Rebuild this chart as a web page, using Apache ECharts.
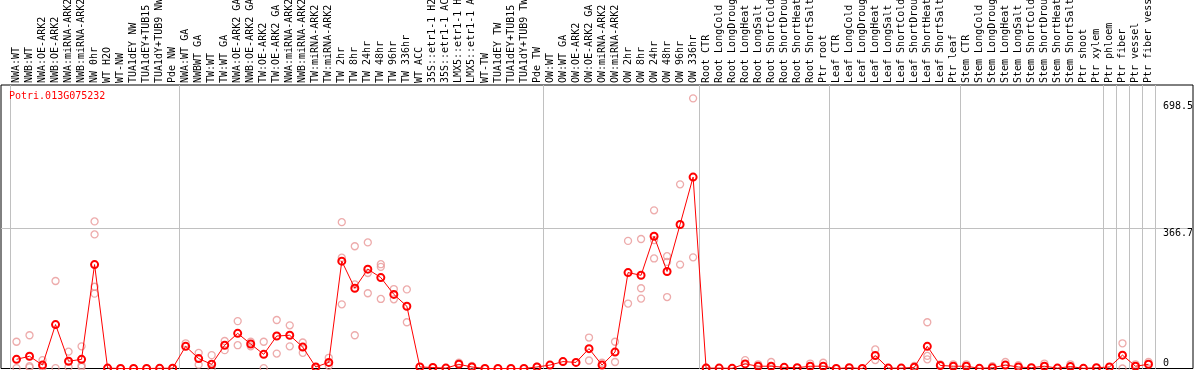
<!DOCTYPE html>
<html>
<head>
<meta charset="utf-8">
<script src="https://cdn.jsdelivr.net/npm/echarts@6/dist/echarts.min.js"></script>
<style>
html, body { margin: 0; padding: 0; background: #fff; }
#chart { width: 1194px; height: 370px; }
</style>
</head>
<body>
<div id="chart"></div>
<script>
var geneName = 'Potri.013G075232';

var samples = [
  'NWA:WT', 'NWB:WT', 'NWA:OE-ARK2', 'NWB:OE-ARK2', 'NWA:miRNA-ARK2', 'NWB:miRNA-ARK2', 'NW 0hr',
  'WT H2O', 'WT-NW', 'TUA1dEY NW', 'TUA1dEY+TUB15 NW', 'TUA1dY+TUB9 NW', 'Pde NW',
  'NWA:WT GA', 'NWBWT GA', 'TW:WT', 'TW:WT GA', 'NWA:OE-ARK2 GA', 'NWB:OE-ARK2 GA', 'TW:OE-ARK2',
  'TW:OE-ARK2 GA', 'NWA:miRNA-ARK2 GA', 'NWB:miRNA-ARK2 GA', 'TW:miRNA-ARK2', 'TW:miRNA-ARK2 GA',
  'TW 2hr', 'TW 8hr', 'TW 24hr', 'TW 48hr', 'TW 96hr', 'TW 336hr', 'WT ACC',
  '35S::etr1-1 H2O', '35S::etr1-1 ACC', 'LMX5::etr1-1 H2O', 'LMX5::etr1-1 ACC', 'WT-TW',
  'TUA1dEY TW', 'TUA1dEY+TUB15 TW', 'TUA1dY+TUB9 TW', 'Pde TW',
  'OW:WT', 'OW:WT GA', 'OW:OE-ARK2', 'OW:OE-ARK2 GA', 'OW:miRNA-ARK2', 'OW:miRNA-ARK2 GA',
  'OW 2hr', 'OW 8hr', 'OW 24hr', 'OW 48hr', 'OW 96hr', 'OW 336hr',
  'Root CTR', 'Root LongCold', 'Root LongDrought', 'Root LongHeat', 'Root LongSalt',
  'Root ShortCold', 'Root ShortDrought', 'Root ShortHeat', 'Root ShortSalt', 'Ptr root',
  'Leaf CTR', 'Leaf LongCold', 'Leaf LongDrought', 'Leaf LongHeat', 'Leaf LongSalt',
  'Leaf ShortCold', 'Leaf ShortDrought', 'Leaf ShortHeat', 'Leaf ShortSalt', 'Ptr leaf',
  'Stem CTR', 'Stem LongCold', 'Stem LongDrought', 'Stem LongHeat', 'Stem LongSalt',
  'Stem ShortCold', 'Stem ShortDrought', 'Stem ShortHeat', 'Stem ShortSalt', 'Ptr shoot',
  'Ptr xylem', 'Ptr phloem', 'Ptr fiber', 'Ptr vessel', 'Ptr fiber vessel'
];

// index of the first sample of each group (gray separators)
var groupStarts = [0, 13, 41, 53, 63, 73, 84, 85, 86, 87];

var meanValues = [
  24, 32, 9, 115, 19, 24, 272, 1, 0, 0, 0, 0.5, 0.7,
  58, 26, 11, 61, 92, 64, 37, 85, 87, 56, 4, 16, 281, 210, 260, 238, 194, 163, 4, 2.6, 1, 11, 4, 0, 0, 0, 0, 4,
  9, 18, 16, 52, 9, 43, 251, 244, 346, 254, 377, 501,
  1, 1, 0.5, 12, 6, 6, 3, 2, 6, 6,
  0, 2, 0, 34, 1, 1, 3, 58, 8, 6,
  6, 0.5, 2, 9, 4, 2, 6, 1, 5, 0.5, 2,
  4, 35, 6, 11
];

var replicates = [
  [70, 1], [87, 6, 3], [22, 3], [229, 1], [44, 4], [58, 4, 8], [385, 351, 214, 196],
  [0], [], [], [], [], [],
  [66], [41, 10], [35, 0], [72, 48], [124, 61], [70, 58], [70, 1], [127, 39], [113, 58], [68, 41],
  [1], [28, 7], [383, 290, 168], [320, 220, 87], [330, 250, 197], [273, 266, 182], [208, 181],
  [207, 121], [], [], [], [15], [7], [], [], [], [], [5],
  [], [], [], [81, 21], [15], [70, 17], [334, 170], [339, 210, 183], [414, 336, 288],
  [294, 279, 187], [482, 272], [707, 291],
  [2], [], [], [22], [11], [17], [], [], [13], [15],
  [], [], [], [50, 22], [], [], [7], [121, 33, 24], [11], [11],
  [11], [], [6], [17], [9], [], [13], [], [11], [], [],
  [], [66, 0], [11], [17]
];

var yLabelValues = [366.7, 698.5];
var yZeroLabel = [0];
var yMax = 742;

var repPoints = [];
replicates.forEach(function (list, i) {
  list.forEach(function (v) {
    repPoints.push([i, v]);
  });
});

var monoFont = 'DejaVu Sans Mono';

function isGroupStart(index) {
  return groupStarts.indexOf(index) >= 0;
}

var chart = echarts.init(document.getElementById('chart'));
chart.setOption({
  animation: false,
  backgroundColor: '#fff',
  title: {
    text: geneName,
    left: 9,
    top: 91,
    padding: 0,
    textStyle: { color: '#ff0000', fontSize: 10, fontFamily: monoFont, fontWeight: 'normal' }
  },
  grid: [
    // data area
    { left: 10, right: 39, top: 85, bottom: 1.5, containLabel: false, outerBoundsMode: 'none' },
    // outer frame
    { left: 1, right: 1, top: 85, bottom: 1.5, containLabel: false, outerBoundsMode: 'none',
      show: true, borderColor: '#000', borderWidth: 1, backgroundColor: 'transparent' }
  ],
  xAxis: [
    {
      type: 'category',
      gridIndex: 0,
      position: 'top',
      data: samples,
      boundaryGap: true,
      axisLine: { show: false },
      axisTick: {
        show: true,
        length: 85,
        interval: isGroupStart,
        lineStyle: { color: '#c0c0c0', width: 1 }
      },
      splitLine: {
        show: true,
        interval: isGroupStart,
        lineStyle: { color: '#c0c0c0', width: 1 }
      },
      axisLabel: {
        interval: 0,
        rotate: 90,
        margin: 2,
        color: '#000',
        fontSize: 10,
        fontFamily: monoFont
      }
    },
    { type: 'value', gridIndex: 1, show: false, min: 0, max: 1 }
  ],
  yAxis: [
    { type: 'value', gridIndex: 0, min: 0, max: yMax, show: false },
    {
      type: 'value',
      gridIndex: 1,
      position: 'right',
      min: 0,
      max: yMax,
      axisLine: { show: false },
      axisTick: { show: false, customValues: [366.7] },
      splitLine: { show: true, lineStyle: { color: '#c0c0c0', width: 1 } },
      axisLabel: {
        customValues: yLabelValues,
        inside: true,
        margin: 30,
        align: 'left',
        verticalAlign: 'top',
        color: '#000',
        fontSize: 10,
        fontFamily: monoFont
      }
    },
    {
      type: 'value',
      gridIndex: 1,
      position: 'right',
      min: 0,
      max: yMax,
      axisLine: { show: false },
      axisTick: { show: false },
      splitLine: { show: false },
      axisLabel: {
        customValues: yZeroLabel,
        inside: true,
        margin: 30,
        align: 'left',
        verticalAlign: 'bottom',
        color: '#000',
        fontSize: 10,
        fontFamily: monoFont
      }
    }
  ],
  series: [
    {
      name: 'replicates',
      type: 'scatter',
      xAxisIndex: 0,
      yAxisIndex: 0,
      clip: false,
      symbol: 'circle',
      symbolSize: 7,
      itemStyle: { color: 'rgba(0,0,0,0)', borderColor: '#e89696', borderWidth: 1.3 },
      data: repPoints,
      z: 2
    },
    {
      name: 'mean',
      type: 'line',
      xAxisIndex: 0,
      yAxisIndex: 0,
      clip: false,
      symbol: 'circle',
      symbolSize: 7,
      showAllSymbol: true,
      lineStyle: { color: '#ff0000', width: 1 },
      itemStyle: { color: 'rgba(0,0,0,0)', borderColor: '#ff0000', borderWidth: 2 },
      data: meanValues,
      z: 3
    }
  ]
});
</script>
</body>
</html>
